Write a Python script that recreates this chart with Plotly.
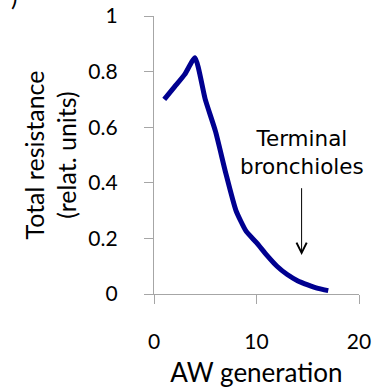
import plotly.graph_objects as go

generation = list(range(1, 18))
resistance = [0.70, 0.745, 0.79, 0.85, 0.70, 0.585, 0.435, 0.30, 0.225, 0.185,
              0.14, 0.10, 0.07, 0.048, 0.033, 0.02, 0.012]
x_ticks = [0, 10, 20]
y_ticks = [0, 0.2, 0.4, 0.6, 0.8, 1]
y_tick_labels = ["0", "0.2", "0.4", "0.6", "0.8", "1"]

FONT = "Lato"
AXIS_GRAY = "#a6a6a6"

fig = go.Figure()
fig.add_trace(go.Scatter(
    x=generation, y=resistance, mode="lines",
    line=dict(color="#000090", width=5, shape="spline", smoothing=0.5),
    showlegend=False, hoverinfo="skip",
))

fig.update_layout(
    width=375, height=392,
    margin=dict(l=154, r=16, t=16, b=98, autoexpand=False),
    paper_bgcolor="white", plot_bgcolor="white",
    font=dict(family=FONT, color="black", size=20),
    xaxis=dict(
        range=[0, 20], tickvals=x_ticks, showgrid=False, zeroline=False,
        showline=True, linecolor=AXIS_GRAY, linewidth=1.3, automargin=False,
        ticks="outside", ticklen=9, tickcolor=AXIS_GRAY, tickwidth=1.3,
        ticklabelstandoff=20, tickfont=dict(size=21, family=FONT),
        title=dict(text="AW generation", font=dict(size=26, family=FONT), standoff=11),
    ),
    yaxis=dict(
        range=[0, 1], tickvals=y_ticks, ticktext=y_tick_labels,
        showgrid=False, zeroline=False, automargin=False,
        showline=True, linecolor=AXIS_GRAY, linewidth=1.3,
        ticks="outside", ticklen=9, tickcolor=AXIS_GRAY, tickwidth=1.3,
        ticklabelstandoff=22, tickfont=dict(size=21, family=FONT),
        title=dict(text="Total resistance<br>(relat. units)",
                   font=dict(size=25, family=FONT), standoff=4),
    ),
)

fig.add_annotation(
    x=14.4, y=0.51, xref="x", yref="y", text="Terminal<br>bronchioles",
    showarrow=False, font=dict(size=21.5, family="DejaVu Sans", color="black"),
    align="center",
)
fig.add_annotation(
    x=14.4, y=0.14, ax=14.4, ay=0.386, xref="x", yref="y", axref="x", ayref="y",
    text="", showarrow=True, arrowhead=5, arrowsize=2, arrowwidth=1,
    arrowcolor="black",
)
fig.add_annotation(
    x=-0.685, y=1.011, xref="paper", yref="paper", text=")",
    xanchor="center", yanchor="bottom",
    showarrow=False, font=dict(size=24, family=FONT, color="black"),
)

fig.write_html("out.html")
